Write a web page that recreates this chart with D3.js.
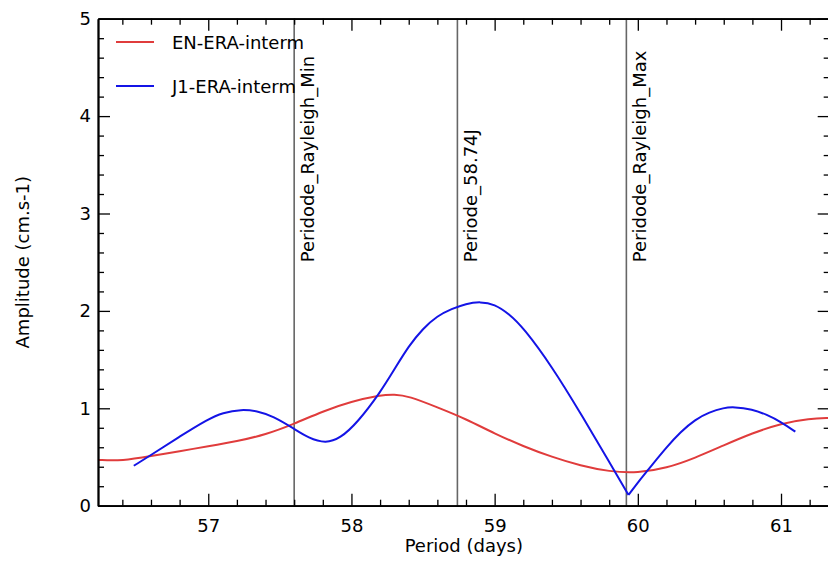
<!DOCTYPE html>
<html><head><meta charset="utf-8">
<script src="https://cdn.jsdelivr.net/npm/d3@7"></script>
<style>
html,body{margin:0;padding:0;background:#fff;overflow:hidden}
text{font-family:"DejaVu Sans",sans-serif}
</style></head>
<body><svg id="c" width="828" height="563"></svg>
<script>
// ---- data ----
const seriesNames = ["EN-ERA-interm", "J1-ERA-interm"];
const seriesColors = ["#e03c3c", "#1414e6"];
const redX = [56.23, 56.4, 56.6, 56.8, 57.0, 57.2, 57.4, 57.6, 57.8, 58.0, 58.2, 58.3, 58.4, 58.6, 58.8, 59.0, 59.2, 59.4, 59.6, 59.8, 60.0, 60.2, 60.4, 60.6, 60.8, 61.0, 61.2, 61.34];
const redY = [0.47, 0.46, 0.51, 0.56, 0.61, 0.66, 0.73, 0.84, 0.97, 1.07, 1.135, 1.145, 1.125, 1.01, 0.89, 0.74, 0.61, 0.50, 0.41, 0.35, 0.335, 0.385, 0.49, 0.62, 0.745, 0.845, 0.895, 0.90];
const blueX = [56.48, 56.6, 56.8, 57.0, 57.1, 57.23, 57.35, 57.45, 57.6, 57.7, 57.82, 57.92, 58.04, 58.2, 58.3, 58.4, 58.5, 58.6, 58.7, 58.8, 58.9, 59.0, 59.1, 59.2, 59.4, 59.6, 59.8, 59.935, 60.0, 60.1, 60.2, 60.3, 60.4, 60.5, 60.6, 60.67, 60.8, 60.9, 61.0, 61.1];
const blueY = [0.41, 0.52, 0.71, 0.89, 0.955, 0.99, 0.97, 0.92, 0.79, 0.695, 0.64, 0.69, 0.85, 1.16, 1.40, 1.64, 1.82, 1.95, 2.02, 2.075, 2.095, 2.07, 1.97, 1.83, 1.43, 0.95, 0.45, 0.11, 0.24, 0.42, 0.60, 0.76, 0.885, 0.96, 1.005, 1.015, 0.99, 0.935, 0.86, 0.76];
const markerX = [57.60, 58.74, 59.92];
const markerLabels = ["Peridode_Rayleigh_Min", "Periode_58.74J", "Peridode_Rayleigh_Max"];
const markerLabelY = 2.5;
const xMajor = [57, 58, 59, 60, 61];
const xMinor = [56.4, 56.6, 56.8, 57.2, 57.4, 57.6, 57.8, 58.2, 58.4, 58.6, 58.8, 59.2, 59.4, 59.6, 59.8, 60.2, 60.4, 60.6, 60.8, 61.2];
const yMajor = [0, 1, 2, 3, 4, 5];
const yMinor = [0.2,0.4,0.6,0.8,1.2,1.4,1.6,1.8,2.2,2.4,2.6,2.8,3.2,3.4,3.6,3.8,4.2,4.4,4.6,4.8];
const xTitle = "Period (days)";
const yTitle = "Amplitude (cm.s-1)";

// ---- layout ----
const L = 98, R = 829.7, T = 18.7, B = 505.7;
const FS = 18;
const svg = d3.select("#c");
const x = d3.scaleLinear().domain([56.23, 61.34]).range([L, R]);
const y = d3.scaleLinear().domain([0, 5]).range([B, T]);

// marker lines
const mk = svg.append("g");
markerX.forEach((v, i) => {
  mk.append("line").attr("x1", x(v)).attr("x2", x(v)).attr("y1", T).attr("y2", B)
    .attr("stroke", "#666").attr("stroke-width", 1.6);
  mk.append("text").attr("transform", `translate(${x(v) + 19.5},${y(markerLabelY)}) rotate(-90)`)
    .attr("font-size", FS).attr("fill", "#000").text(markerLabels[i]);
});

// series
const line = d3.line().x(d => x(d[0])).y(d => y(d[1])).curve(d3.curveBasis);
svg.append("clipPath").attr("id", "pc").append("rect")
  .attr("x", L).attr("y", T).attr("width", R - L).attr("height", B - T);
// split a series at its cusp (global minimum) so the V stays sharp
function pieces(xs, ys, splitAtMin) {
  const pts = d3.zip(xs, ys);
  if (!splitAtMin) return [pts];
  const k = d3.minIndex(ys);
  return [pts.slice(0, k + 1), pts.slice(k)];
}
[[redX, redY, false], [blueX, blueY, true]].forEach((s, i) => {
  const d = pieces(s[0], s[1], s[2]).map(p => line(p)).join("");
  svg.append("path").attr("d", d).attr("fill", "none")
    .attr("stroke", seriesColors[i]).attr("stroke-width", 2)
    .attr("stroke-linejoin", "miter").attr("clip-path", "url(#pc)");
});

// axes
function styleAxis(g) {
  g.selectAll("path.domain").attr("stroke", "#000").attr("stroke-width", 1.8);
  g.selectAll(".tick line").attr("stroke", "#000").attr("stroke-width", 1.3);
  g.selectAll("text").attr("font-size", FS).attr("fill", "#000").attr("font-family", "DejaVu Sans");
}
svg.append("g").attr("transform", `translate(0,${B})`)
  .call(d3.axisBottom(x).tickValues(xMajor).tickSize(-12).tickSizeOuter(0).tickPadding(14).tickFormat(d3.format("d"))).call(styleAxis);
svg.append("g").attr("transform", `translate(0,${B})`)
  .call(d3.axisBottom(x).tickValues(xMinor).tickSize(-6).tickSizeOuter(0).tickFormat("")).call(styleAxis);
svg.append("g").attr("transform", `translate(0,${T})`)
  .call(d3.axisTop(x).tickValues(xMajor).tickSize(-12).tickSizeOuter(0).tickFormat("")).call(styleAxis);
svg.append("g").attr("transform", `translate(0,${T})`)
  .call(d3.axisTop(x).tickValues(xMinor).tickSize(-6).tickSizeOuter(0).tickFormat("")).call(styleAxis);
svg.append("g").attr("transform", `translate(${L},0)`)
  .call(d3.axisLeft(y).tickValues(yMajor).tickSize(-12).tickSizeOuter(0).tickPadding(7).tickFormat(d3.format("d"))).call(styleAxis);
svg.append("g").attr("transform", `translate(${L},0)`)
  .call(d3.axisLeft(y).tickValues(yMinor).tickSize(-6).tickSizeOuter(0).tickFormat("")).call(styleAxis);
svg.append("g").attr("transform", `translate(${R},0)`)
  .call(d3.axisRight(y).tickValues(yMajor).tickSize(-12).tickSizeOuter(0).tickFormat("")).call(styleAxis);
svg.append("g").attr("transform", `translate(${R},0)`)
  .call(d3.axisRight(y).tickValues(yMinor).tickSize(-6).tickSizeOuter(0).tickFormat("")).call(styleAxis);

// titles
svg.append("text").attr("x", (L + R) / 2).attr("y", 551.5).attr("text-anchor", "middle")
  .attr("font-size", FS).text(xTitle);
svg.append("text").attr("transform", `translate(29,${(T + B) / 2}) rotate(-90)`).attr("text-anchor", "middle")
  .attr("font-size", FS).text(yTitle);

// legend
const lg = svg.append("g");
seriesNames.forEach((n, i) => {
  const yy = 42 + i * 44;
  lg.append("line").attr("x1", 116).attr("x2", 154).attr("y1", yy).attr("y2", yy)
    .attr("stroke", seriesColors[i]).attr("stroke-width", 2);
  lg.append("text").attr("x", 172).attr("y", yy + 6.5).attr("font-size", FS).text(n);
});
</script></body></html>
